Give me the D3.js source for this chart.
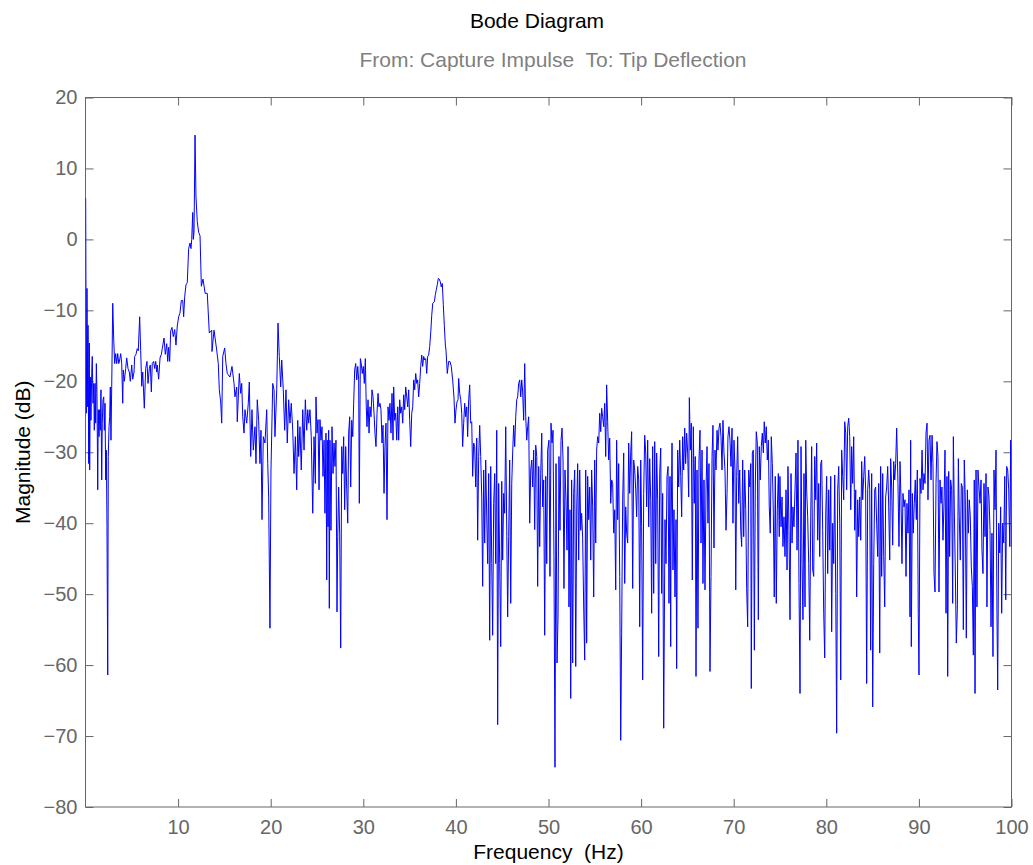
<!DOCTYPE html>
<html>
<head>
<meta charset="utf-8">
<script src="https://cdn.jsdelivr.net/npm/d3@7"></script>
<style>
	body { margin: 0; background: #fff; }
	text { font-family: "Liberation Sans", Arial, Helvetica, sans-serif; }
</style>
</head>
<body>
<div id="bode"></div>
<script>
// frequency (Hz) and magnitude (dB)
var freq = [
	0.02,0.09,0.16,0.24,0.27,0.35,0.41,0.45,0.52,0.59,0.67,0.73,0.81,0.89,0.95,1.03,1.10,1.17,1.24,1.32,
	1.38,1.46,1.53,1.60,1.67,1.75,1.81,1.89,1.97,2.03,2.11,2.18,2.25,2.32,2.40,2.46,2.54,2.61,2.68,2.75,
	2.83,2.94,3.05,3.15,3.26,3.37,3.48,3.59,3.69,3.80,3.91,4.02,4.08,4.19,4.34,4.45,4.59,4.73,4.84,4.99,
	5.10,5.24,5.31,5.45,5.59,5.70,5.85,5.96,6.07,6.18,6.35,6.50,6.64,6.75,6.89,7.00,7.11,7.21,7.36,7.47,
	7.58,7.69,7.75,7.90,8.05,8.19,8.29,8.48,8.62,8.77,8.88,8.98,9.09,9.20,9.34,9.48,9.63,9.77,9.91,10.06,
	10.20,10.35,10.50,10.60,10.71,10.85,10.99,11.14,11.29,11.39,11.47,11.58,11.64,11.72,11.83,11.93,12.07,12.22,12.37,12.51,
	12.69,12.92,13.15,13.37,13.63,13.66,13.88,14.17,14.34,14.45,14.60,14.71,14.82,15.03,15.17,15.31,15.60,15.82,16.04,16.14,
	16.33,16.39,16.61,16.76,16.87,16.98,17.12,17.22,17.41,17.58,17.69,17.84,17.98,18.12,18.30,18.41,18.55,18.70,18.84,18.95,
	19.06,19.20,19.38,19.57,19.68,19.78,19.92,20.03,20.22,20.36,20.46,20.65,20.79,20.93,21.08,21.19,21.36,21.51,21.65,21.79,
	21.94,22.08,22.22,22.38,22.52,22.66,22.81,22.92,23.02,23.16,23.30,23.46,23.60,23.74,23.89,24.00,24.10,24.24,24.38,24.54,
	24.68,24.82,24.89,25.00,25.11,25.22,25.32,25.43,25.54,25.65,25.76,25.86,25.97,26.05,26.11,26.19,26.26,26.33,26.40,26.51,
	26.62,26.73,26.84,26.94,27.05,27.16,27.24,27.34,27.45,27.56,27.67,27.78,27.88,27.99,28.10,28.21,28.32,28.42,28.53,28.64,
	28.75,28.86,28.96,29.07,29.18,29.29,29.40,29.50,29.57,29.68,29.78,29.89,30.00,30.11,30.22,30.32,30.40,30.51,30.62,30.72,
	30.83,30.94,31.05,31.16,31.26,31.37,31.48,31.59,31.69,31.80,31.91,32.02,32.13,32.24,32.34,32.45,32.56,32.67,32.78,32.88,
	32.99,33.10,33.21,33.28,33.39,33.50,33.61,33.72,33.82,33.93,34.04,34.15,34.26,34.36,34.47,34.58,34.69,34.80,34.90,35.01,
	35.12,35.23,35.34,35.44,35.55,35.66,35.77,35.87,35.98,36.09,36.20,36.31,36.41,36.52,36.63,36.74,36.85,36.95,37.06,37.17,
	37.29,37.39,37.50,37.67,37.78,37.88,37.99,38.10,38.21,38.32,38.42,38.53,38.64,38.75,38.86,38.93,39.07,39.22,39.36,39.50,
	39.65,39.79,39.90,40.01,40.12,40.23,40.30,40.41,40.52,40.63,40.73,40.84,40.95,41.06,41.17,41.27,41.38,41.49,41.60,41.71,
	41.81,41.92,42.03,42.14,42.25,42.35,42.46,42.57,42.68,42.79,42.89,43.00,43.11,43.22,43.33,43.43,43.54,43.65,43.76,43.87,
	43.97,44.08,44.19,44.30,44.41,44.51,44.62,44.73,44.84,44.95,45.05,45.16,45.27,45.38,45.49,45.59,45.70,45.81,45.92,46.03,
	46.13,46.24,46.35,46.46,46.57,46.67,46.78,46.89,47.00,47.11,47.21,47.32,47.43,47.54,47.65,47.75,47.86,47.97,48.08,48.19,
	48.29,48.40,48.51,48.62,48.73,48.83,48.94,49.05,49.16,49.27,49.37,49.48,49.59,49.70,49.81,49.91,
	50.05,50.16,50.27,50.38,50.49,50.59,50.70,50.81,50.92,51.03,51.13,51.24,51.35,51.46,51.57,51.67,51.78,51.89,52.00,52.11,
	52.21,52.32,52.40,52.50,52.61,52.72,52.83,52.94,53.05,53.15,53.26,53.37,53.48,53.58,53.69,53.80,53.91,54.02,54.12,54.23,
	54.34,54.45,54.56,54.66,54.77,54.88,54.99,55.10,55.20,55.31,55.42,55.53,55.64,55.74,55.85,55.96,56.07,56.18,56.28,56.39,
	56.50,56.61,56.72,56.82,56.93,57.04,57.15,57.26,57.36,57.47,57.58,57.69,57.80,57.90,58.01,58.12,58.23,58.34,58.44,58.55,
	58.66,58.77,58.88,58.98,59.09,59.20,59.31,59.42,59.52,59.63,59.74,59.85,59.96,60.06,60.17,60.28,60.39,60.50,60.60,60.71,
	60.82,60.93,61.04,61.14,61.25,61.36,61.47,61.58,61.68,61.79,61.90,62.01,62.12,62.22,62.33,62.44,
	62.58,62.69,62.80,62.91,63.01,63.12,63.20,63.23,63.34,63.44,63.55,63.66,63.77,63.84,63.95,64.06,64.17,64.28,64.38,64.49,
	64.60,64.71,64.81,64.92,65.03,65.14,65.21,65.32,65.42,65.53,65.64,65.74,65.85,65.93,66.04,66.14,66.25,66.36,66.47,66.58,
	66.68,66.79,66.90,67.01,67.12,67.22,67.33,67.44,67.55,67.66,67.76,67.87,67.98,68.09,68.20,68.30,68.41,68.52,68.63,68.74,
	68.84,68.95,69.06,69.17,69.28,69.38,69.49,69.60,69.71,69.82,69.92,70.03,70.14,70.22,70.32,70.43,70.54,70.65,70.76,70.86,
	70.97,71.08,71.19,71.30,71.40,71.51,71.62,71.73,71.84,71.90,72.01,72.12,72.23,72.33,72.44,72.55,72.66,72.76,72.87,72.98,
	73.09,73.20,73.30,73.41,73.52,73.63,73.74,73.84,73.95,74.06,74.17,74.28,74.38,74.49,74.60,74.71,74.82,74.92,
	74.99,75.11,75.22,75.32,75.43,75.54,75.65,75.76,75.86,75.97,76.08,76.19,76.30,76.40,76.51,76.62,76.73,76.84,76.94,77.05,
	77.16,77.27,77.38,77.48,77.59,77.70,77.78,77.88,77.99,78.10,78.21,78.32,78.42,78.53,78.64,78.75,78.86,78.96,79.07,79.18,
	79.29,79.40,79.50,79.61,79.72,79.83,79.94,80.04,80.15,80.26,80.37,80.48,80.58,80.69,80.80,80.91,81.02,81.12,81.23,81.34,
	81.45,81.56,81.66,81.77,81.88,81.99,82.10,82.20,82.31,82.42,82.53,82.64,82.74,82.85,82.96,83.07,83.18,83.28,83.39,83.50,
	83.61,83.72,83.82,83.93,84.04,84.15,84.25,84.36,84.47,84.58,84.69,84.79,84.90,85.01,85.12,85.23,85.33,85.44,85.55,85.66,
	85.77,85.87,85.98,86.09,86.20,86.31,86.41,86.52,86.63,86.74,86.85,86.95,87.06,87.17,87.28,87.39,87.49,87.60,
	87.74,87.85,87.96,88.07,88.17,88.28,88.39,88.50,88.61,88.71,88.82,88.93,89.04,89.11,89.18,89.29,89.39,89.50,89.61,89.72,
	89.83,89.93,90.01,90.12,90.23,90.34,90.44,90.55,90.66,90.77,90.88,90.98,91.09,91.20,91.31,91.42,91.52,91.63,91.74,91.85,
	91.95,92.06,92.17,92.28,92.39,92.49,92.60,92.71,92.82,92.93,93.03,93.11,93.22,93.32,93.43,93.54,93.65,93.72,93.82,93.93,
	94.04,94.15,94.26,94.36,94.47,94.58,94.69,94.80,94.90,95.01,95.12,95.23,95.34,95.44,95.55,95.66,95.77,95.88,95.98,96.06,
	96.17,96.27,96.38,96.49,96.60,96.71,96.81,96.92,97.03,97.14,97.25,97.35,97.46,97.57,97.68,97.79,97.89,98.00,98.11,98.22,
	98.33,98.43,98.51,98.62,98.73,98.83,98.94,99.05,99.16,99.27,99.38,99.48,99.59,99.70,99.81,99.91,99.98
];
var mag = [
	5.8,-24.5,-6.9,-23.6,-12.1,-31.6,-14.6,-32.5,-19.4,-25.5,-18.9,-16.5,-23.1,-20.3,-26.9,-20.3,-25.9,-17.5,-21.7,-35.3,
	-24.0,-27.8,-24.0,-26.9,-21.2,-33.9,-25.9,-22.6,-22.2,-26.9,-23.1,-33.9,-29.7,-40.5,-61.4,-30.6,-26.4,-25.0,-20.8,-28.3,
	-20.8,-9.0,-14.2,-17.5,-16.1,-17.5,-16.1,-17.5,-17.0,-16.1,-17.5,-23.1,-18.4,-20.0,-18.2,-16.7,-18.2,-18.7,-20.0,-17.7,
	-19.7,-18.7,-16.5,-16.2,-15.4,-15.7,-10.9,-15.7,-20.7,-18.7,-23.8,-18.2,-17.2,-20.3,-18.2,-17.7,-21.5,-17.5,-17.2,-18.2,
	-17.2,-18.7,-17.7,-19.7,-16.7,-16.2,-15.4,-13.9,-16.2,-14.7,-17.2,-15.2,-17.2,-12.9,-12.4,-13.7,-12.7,-14.9,-12.2,-10.9,
	-10.4,-8.6,-8.6,-10.9,-8.1,-6.4,-6.1,-1.3,-0.5,-1.3,0.0,3.8,0.0,1.0,14.7,6.0,2.5,1.0,0.5,-6.6,
	-5.6,-7.6,-7.6,-13.2,-12.8,-15.8,-12.8,-15.6,-17.5,-21.2,-22.9,-25.9,-16.5,-15.3,-17.5,-18.9,-19.4,-17.9,-20.3,-22.2,
	-20.8,-25.7,-18.9,-21.7,-20.3,-25.0,-27.3,-24.0,-25.9,-23.1,-20.1,-30.6,-24.0,-29.7,-26.4,-31.6,-22.6,-25.5,-31.6,-26.9,
	-39.5,-27.8,-28.7,-24.0,-31.6,-36.3,-54.8,-32.5,-20.3,-21.2,-27.8,-21.2,-11.8,-16.5,-20.8,-17.0,-21.2,-26.9,-21.2,-28.7,
	-22.6,-25.9,-23.1,-26.9,-33.0,-27.8,-35.3,-25.5,-30.6,-26.4,-32.5,-24.0,-29.7,-22.6,-26.9,-24.0,-25.9,-24.0,-27.8,-38.6,
	-27.8,-34.4,-22.2,-27.3,-25.4,-35.3,-25.4,-28.3,-26.4,-33.4,-28.3,-38.6,-27.3,-48.0,-28.3,-40.5,-26.9,-52.0,-28.3,-41.0,
	-26.4,-33.0,-28.7,-32.0,-28.3,-52.5,-41.9,-34.9,-41.5,-57.6,-29.2,-33.0,-27.8,-38.1,-29.2,-35.3,-40.0,-27.3,-25.0,-34.9,
	-25.5,-27.8,-23.1,-18.4,-17.5,-19.8,-17.9,-19.8,-37.2,-16.8,-17.5,-18.9,-17.9,-20.3,-16.8,-23.6,-26.4,-22.6,-27.3,-23.6,
	-25.0,-21.2,-22.2,-24.5,-27.3,-29.2,-24.5,-21.7,-23.6,-23.1,-24.0,-28.7,-26.2,-35.8,-29.2,-25.9,-39.5,-23.6,-25.5,-23.1,
	-27.3,-21.7,-28.3,-20.8,-25.5,-24.5,-28.3,-23.6,-28.3,-22.6,-24.5,-23.6,-25.9,-21.9,-24.0,-20.8,-22.2,-23.6,-21.2,-25.5,
	-29.2,-24.5,-23.6,-19.8,-21.2,-18.9,-20.3,-19.8,-22.2,-20.3,-17.9,-16.3,-17.9,-16.5,-17.0,-16.8,-18.9,-16.5,-16.3,-15.1,
	-13.0,-10.7,-9.0,-8.8,-7.8,-7.1,-6.4,-5.5,-5.6,-6.0,-6.7,-6.2,-9.2,-12.1,-14.9,-15.6,-18.9,-17.2,-17.2,-17.9,
	-19.8,-22.2,-25.9,-24.0,-22.9,-22.6,-19.6,-21.7,-22.6,-24.5,-29.2,-25.9,-23.1,-25.0,-23.6,-27.8,-22.6,-20.5,-25.9,-25.7,
	-33.4,-28.7,-29.2,-34.9,-28.0,-42.4,-30.6,-26.2,-30.6,-36.3,-48.9,-32.5,-42.8,-31.1,-39.1,-45.7,-33.0,-56.5,-32.0,-45.7,
	-55.8,-37.2,-33.0,-45.7,-26.9,-68.4,-34.4,-45.7,-57.4,-34.1,-45.2,-35.8,-38.6,-26.4,-41.0,-53.2,-41.9,-31.1,-51.3,-34.4,
	-30.1,-26.2,-29.2,-25.0,-22.6,-22.2,-20.3,-19.8,-22.2,-19.8,-21.5,-25.5,-17.5,-25.0,-28.3,-26.4,-25.0,-40.0,-32.5,-31.1,
	-34.9,-29.7,-40.9,-29.0,-30.6,-48.9,-32.0,-43.3,-33.0,-27.3,-37.7,-33.9,-55.8,-33.4,-45.7,-29.7,
	-28.3,-47.5,-25.9,-28.7,-26.9,-44.7,-74.4,-31.6,-59.7,-53.2,-30.6,-41.0,-28.3,-26.6,-31.1,-49.2,-32.5,-36.7,-43.8,-29.2,
	-51.8,-38.1,-64.7,-33.9,-59.7,-35.8,-32.5,-60.2,-37.7,-31.6,-45.2,-32.5,-41.0,-38.6,-42.2,-51.8,-59.3,-32.5,-56.9,-33.4,
	-39.5,-34.9,-45.2,-32.5,-37.7,-50.4,-31.1,-42.8,-29.7,-27.8,-28.7,-24.5,-27.1,-23.8,-25.0,-26.4,-23.1,-30.6,-20.5,-25.7,
	-31.1,-28.0,-37.2,-33.9,-34.4,-41.4,-38.1,-49.4,-28.3,-39.5,-31.6,-47.5,-70.6,-55.5,-36.7,-30.1,-48.5,-37.7,-41.4,-42.8,
	-28.7,-35.8,-30.1,-27.1,-49.2,-31.1,-32.5,-35.3,-39.1,-32.0,-33.9,-54.6,-31.1,-40.5,-62.1,-35.8,-27.6,-30.1,-37.7,-28.3,
	-40.5,-30.9,-36.7,-52.7,-29.2,-49.9,-28.5,-45.7,-30.1,-36.7,-58.8,-33.0,-29.4,-49.9,-35.8,-68.9,
	-39.5,-45.7,-33.4,-32.0,-51.3,-33.4,-57.4,-42.4,-28.7,-46.6,-38.1,-50.4,-39.5,-60.5,-29.7,-34.9,-28.3,-33.4,-39.1,-27.8,
	-32.5,-26.6,-31.6,-27.3,-30.1,-36.3,-22.3,-29.7,-25.9,-48.0,-26.4,-37.2,-30.6,-61.6,-32.5,-54.8,-31.1,-26.9,-42.8,-29.7,
	-48.5,-33.9,-49.4,-35.3,-29.2,-40.0,-31.6,-60.9,-47.5,-30.6,-26.2,-43.5,-29.7,-32.5,-26.9,-29.7,-26.6,-25.9,-27.8,-32.5,
	-25.5,-30.1,-32.5,-41.0,-35.8,-27.8,-26.4,-28.3,-32.0,-26.6,-40.0,-28.3,-32.5,-49.4,-33.4,-27.8,-37.2,-32.5,-41.0,-43.3,
	-31.1,-41.9,-32.5,-38.1,-49.2,-54.6,-32.5,-34.9,-31.6,-63.3,-30.1,-29.7,-57.9,-34.9,-27.1,-28.7,-53.6,-29.2,-33.9,-29.2,
	-27.3,-30.1,-25.7,-28.7,-26.4,-31.1,-28.3,-37.7,-41.4,-27.8,-31.6,-38.6,-50.4,-33.4,-51.3,-38.1,-33.0,-41.9,
	-33.4,-40.5,-36.3,-43.3,-39.1,-44.7,-35.3,-46.6,-32.0,-41.0,-53.6,-33.0,-42.8,-37.7,-40.5,-35.3,-30.1,-43.8,-28.3,-48.5,
	-64.0,-29.2,-45.7,-53.6,-33.0,-51.8,-28.3,-35.3,-39.1,-45.7,-56.5,-39.1,-29.2,-46.6,-47.5,-30.6,-36.7,-28.7,-42.4,-34.4,
	-44.7,-31.6,-31.1,-41.0,-52.7,-59.0,-38.6,-33.4,-47.1,-35.3,-43.8,-33.4,-55.3,-40.0,-45.7,-33.2,-49.9,-69.6,-35.3,-32.0,
	-40.0,-62.1,-29.7,-33.4,-36.7,-25.7,-27.3,-35.3,-26.4,-25.2,-27.8,-38.1,-29.2,-34.4,-27.8,-41.0,-35.3,-50.4,-36.7,-41.9,
	-36.3,-42.4,-31.3,-36.7,-33.4,-30.6,-35.3,-62.6,-35.3,-32.5,-35.3,-57.9,-33.0,-65.9,-45.7,-35.3,-34.9,-40.0,-44.7,-34.4,
	-58.3,-32.0,-47.5,-33.0,-44.7,-51.8,-36.3,-34.9,-32.0,-37.7,-45.2,-30.9,-34.9,-43.1,-31.3,-33.9,-31.6,-26.6,
	-34.4,-43.3,-31.3,-36.7,-45.7,-35.8,-37.7,-36.7,-47.5,-37.2,-41.4,-35.3,-53.2,-28.3,-57.4,-35.8,-41.4,-37.2,-33.9,-39.5,
	-32.5,-52.7,-61.4,-33.7,-35.8,-29.7,-35.3,-33.0,-34.4,-27.3,-25.9,-36.7,-28.3,-27.6,-33.9,-27.6,-31.6,-47.1,-49.7,-34.4,
	-28.5,-30.6,-49.7,-33.9,-37.2,-34.9,-42.4,-37.2,-29.7,-52.7,-33.4,-61.6,-32.7,-44.7,-33.9,-35.3,-51.3,-27.8,-37.7,-46.6,
	-56.9,-52.2,-30.9,-39.1,-45.2,-34.4,-34.9,-55.0,-31.1,-36.7,-56.2,-35.3,-41.4,-36.7,-39.1,-46.2,-48.9,-58.6,-33.9,-64.0,
	-32.5,-51.8,-32.5,-34.9,-37.2,-33.9,-43.8,-47.1,-34.4,-41.9,-33.0,-51.8,-34.9,-36.3,-41.0,-54.6,-41.4,-58.8,-32.5,-38.1,
	-29.7,-52.7,-63.5,-40.0,-44.2,-37.7,-52.7,-40.0,-42.8,-33.4,-50.8,-32.0,-32.5,-35.3,-43.3,-28.3,-43.3
];
var xTicks = [10, 20, 30, 40, 50, 60, 70, 80, 90, 100];
var yTicks = [-80, -70, -60, -50, -40, -30, -20, -10, 0, 10, 20];
var titleText = "Bode Diagram";
var ioText = "From: Capture Impulse  To: Tip Deflection";
var xLabel = "Frequency  (Hz)";
var yLabel = "Magnitude (dB)";

var W = 1033, H = 865;
var margin = {top: 97.5, right: 21.5, bottom: 58, left: 85.5},
    width = W - margin.left - margin.right,
    height = H - margin.top - margin.bottom;
var axisColor = "#666666";

var points = freq.map(function(f, i) { return {f: f, db: mag[i]}; });

var svg = d3.select("#bode").append("svg")
	.attr("width", W)
	.attr("height", H);

var x = d3.scaleLinear().domain([0, 100]).range([0, width]);
var y = d3.scaleLinear().domain([-80, 20]).range([height, 0]);

var g = svg.append("g")
	.attr("transform", "translate(" + margin.left + "," + margin.top + ")");

g.append("clipPath").attr("id", "plotclip")
	.append("rect").attr("width", width).attr("height", height);

// ticks point inward on all four sides, like matlab's boxed axes
var bottom = g.append("g").attr("transform", "translate(0," + height + ")")
	.call(d3.axisBottom(x).tickValues(xTicks).tickSizeInner(-8).tickSizeOuter(0).tickPadding(13));
var left = g.append("g")
	.call(d3.axisLeft(y).tickValues(yTicks).tickSizeInner(-8).tickSizeOuter(0).tickPadding(8));
g.append("g")
	.call(d3.axisTop(x).tickValues(xTicks).tickSizeInner(-8).tickSizeOuter(0).tickFormat(""));
g.append("g").attr("transform", "translate(" + width + ",0)")
	.call(d3.axisRight(y).tickValues(yTicks).tickSizeInner(-8).tickSizeOuter(0).tickFormat(""));

g.selectAll(".domain").remove();
g.selectAll(".tick line").attr("stroke", axisColor);
g.selectAll(".tick text")
	.attr("fill", axisColor)
	.attr("font-size", "20px")
	.attr("font-family", "'Liberation Sans', Arial, sans-serif");

g.append("rect")
	.attr("width", width)
	.attr("height", height)
	.attr("fill", "none")
	.attr("stroke", axisColor)
	.attr("stroke-width", 1);

var line = d3.line()
	.x(function(d) { return x(d.f); })
	.y(function(d) { return y(d.db); });

g.append("path")
	.datum(points)
	.attr("clip-path", "url(#plotclip)")
	.attr("fill", "none")
	.attr("stroke", "#0000ff")
	.attr("stroke-width", 1)
	.attr("d", line);

// titles and labels
svg.append("text")
	.attr("x", 537).attr("y", 28)
	.attr("text-anchor", "middle")
	.attr("font-size", "21px")
	.attr("fill", "#000")
	.text(titleText);

svg.append("text")
	.attr("x", 553).attr("y", 67)
	.attr("text-anchor", "middle")
	.attr("font-size", "21px")
	.attr("fill", "#7f7f7f")
	.style("white-space", "pre")
	.text(ioText);

svg.append("text")
	.attr("x", margin.left + width / 2).attr("y", 859)
	.attr("text-anchor", "middle")
	.attr("font-size", "21px")
	.attr("fill", "#000")
	.style("white-space", "pre")
	.text(xLabel);

svg.append("text")
	.attr("transform", "translate(30," + (margin.top + height / 2) + ") rotate(-90)")
	.attr("text-anchor", "middle")
	.attr("font-size", "21px")
	.attr("fill", "#000")
	.text(yLabel);
</script>
</body>
</html>
